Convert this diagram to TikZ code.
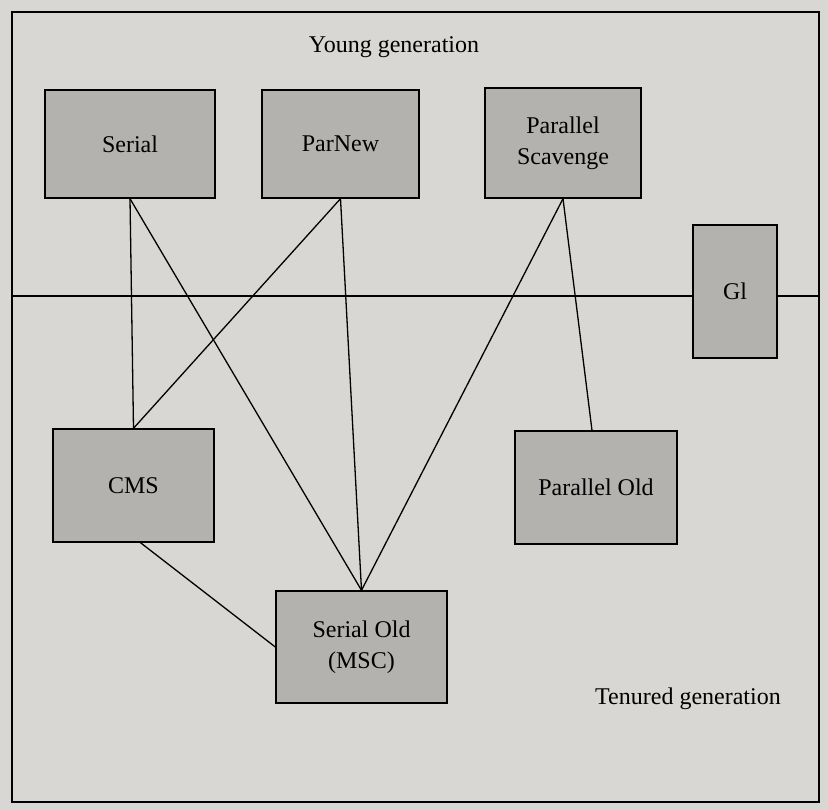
\documentclass[tikz,border=0pt]{standalone}
\usepackage{fontspec}
\setmainfont{Liberation Serif}
\usepackage{tikz}
\definecolor{paper}{HTML}{D8D7D3}
\definecolor{boxgray}{HTML}{B3B2AF}

\begin{document}
\begin{tikzpicture}[x=1pt,y=-1pt,
  gc/.style={draw,line width=1.4pt,fill=boxgray,align=center,inner sep=0pt,
    font=\fontsize{24}{31}\selectfont},
  link/.style={line width=1.3pt}]
\fill[paper] (0,0) rectangle (828,810);
\useasboundingbox (0,0) rectangle (828,810);
\draw[line width=1.4pt] (12,12) rectangle (819,802);

% young generation collectors
\node[gc,minimum width=170pt,minimum height=108pt] (serial) at (130,144) {Serial};
\node[gc,minimum width=157pt,minimum height=108pt] (parnew) at (340.5,144) {ParNew};
\node[gc,minimum width=156pt,minimum height=110pt] (scavenge) at (563,143) {Parallel\\Scavenge};
\node[gc,minimum width=84pt,minimum height=133pt] (gone) at (735,291.5) {Gl};

% tenured generation collectors
\node[gc,minimum width=161pt,minimum height=113pt] (cms) at (133.5,485.5) {CMS};
\node[gc,minimum width=162pt,minimum height=113pt] (parold) at (596,487.5) {Parallel Old};
\node[gc,minimum width=171pt,minimum height=112pt] (serialold) at (361.5,647) {Serial Old\\(MSC)};

\node[font=\fontsize{24}{31}\selectfont] (young) at (394,47) {Young generation};
\node[font=\fontsize{24}{31}\selectfont] (tenured) at (688,699) {Tenured generation};

% boundary between generations
\coordinate (bl) at (12,296);
\coordinate (br) at (819,296);
\draw[link] (bl) -- (bl -| gone.west);
\draw[link] (br -| gone.east) -- (br);

% combinations
\draw[link] (serial.south) -- (cms.north);
\draw[link] (serial.south) -- (serialold.north);
\draw[link] (parnew.south) -- (cms.north);
\draw[link] (parnew.south) -- (serialold.north);
\draw[link] (scavenge.south) -- (serialold.north);
\draw[link] (scavenge.south) -- ([xshift=-4pt]parold.north);
\draw[link] ([xshift=7pt]cms.south) -- (serialold.west);
\end{tikzpicture}
\end{document}
